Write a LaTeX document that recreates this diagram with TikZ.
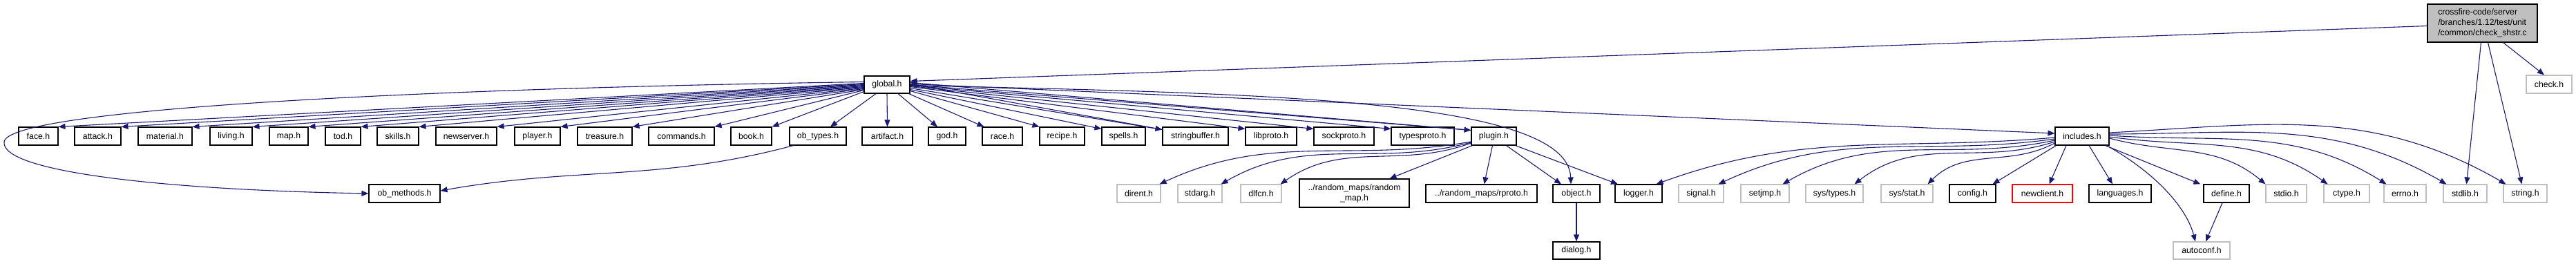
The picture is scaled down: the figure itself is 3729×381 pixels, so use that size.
\documentclass[tikz,border=0pt]{standalone}
\usepackage{fontspec}
\setmainfont{Liberation Sans}
\usetikzlibrary{arrows.meta}
\definecolor{edgec}{HTML}{191970}
\definecolor{graybd}{HTML}{BFBFBF}
\definecolor{redbd}{HTML}{FF0000}
\definecolor{cffill}{HTML}{BFBFBF}
\begin{document}
\begin{tikzpicture}[x=1pt,y=-1pt,
  box/.style={draw=black, line width=1.1pt, inner sep=0pt, minimum height=26pt, font=\fontsize{12.3}{15}\selectfont},
  sysbox/.style={box, draw=graybd},
  redbox/.style={box, draw=redbd},
  edge/.style={draw=edgec, line width=1.1pt, -{Triangle[length=10pt,width=8pt]}}]
\useasboundingbox (0,0) rectangle (3729,381);
% top nodes
\node[box, fill=cffill, minimum width=159pt, minimum height=55pt, align=left] (cf) at (3593.5,33.5) {crossfire-code/server\\/branches/1.12/test/unit\\/common/check\_shstr.c};
\node[box, minimum width=66pt, minimum height=25pt] (global) at (1284,122.5) {global.h};
\node[sysbox, minimum width=66pt] (check) at (3690,122) {check.h};
% row 1
\node[box, minimum width=57pt] (face) at (55.5,197) {face.h};
\node[box, minimum width=67pt] (attack) at (141.5,197) {attack.h};
\node[box, minimum width=78pt] (material) at (239,197) {material.h};
\node[box, minimum width=61pt] (living) at (334.5,197) {living.h};
\node[box, minimum width=56pt] (map) at (418,197) {map.h};
\node[box, minimum width=51pt] (tod) at (496.5,197) {tod.h};
\node[box, minimum width=60pt] (skills) at (576,197) {skills.h};
\node[box, minimum width=88pt] (newserver) at (675,197) {newserver.h};
\node[box, minimum width=66pt] (player) at (778,197) {player.h};
\node[box, minimum width=79pt] (treasure) at (875.5,197) {treasure.h};
\node[box, minimum width=95pt] (commands) at (986.5,197) {commands.h};
\node[box, minimum width=59pt] (book) at (1087.5,197) {book.h};
\node[box, minimum width=82pt] (obtypes) at (1184,197) {ob\_types.h};
\node[box, minimum width=73pt] (artifact) at (1284.5,197) {artifact.h};
\node[box, minimum width=54pt] (god) at (1371,197) {god.h};
\node[box, minimum width=58pt] (race) at (1451,197) {race.h};
\node[box, minimum width=65pt] (recipe) at (1537.5,197) {recipe.h};
\node[box, minimum width=63pt] (spells) at (1626.5,197) {spells.h};
\node[box, minimum width=95pt] (stringbuffer) at (1730.5,197) {stringbuffer.h};
\node[box, minimum width=74pt] (libproto) at (1840,197) {libproto.h};
\node[box, minimum width=87pt] (sockproto) at (1945.5,197) {sockproto.h};
\node[box, minimum width=91pt] (typesproto) at (2059.5,197) {typesproto.h};
\node[box, minimum width=65pt] (plugin) at (2162.5,197) {plugin.h};
\node[box, minimum width=78pt] (includes) at (3014,197) {includes.h};
% row 2
\node[box, minimum width=103pt] (obmethods) at (585.5,280) {ob\_methods.h};
\node[sysbox, minimum width=63pt] (dirent) at (1648.5,280) {dirent.h};
\node[sysbox, minimum width=64pt] (stdarg) at (1737,280) {stdarg.h};
\node[sysbox, minimum width=59pt] (dlfcn) at (1825.5,280) {dlfcn.h};
\node[box, minimum width=159pt, minimum height=41pt, align=center] (randommap) at (1960.5,279.5) {../random\_maps/random\\\_map.h};
\node[box, minimum width=161pt] (rproto) at (2144.5,280) {../random\_maps/rproto.h};
\node[box, minimum width=68pt] (object) at (2282,280) {object.h};
\node[box, minimum width=68pt] (logger) at (2372,280) {logger.h};
\node[sysbox, minimum width=65pt] (signal) at (2462.5,280) {signal.h};
\node[sysbox, minimum width=70pt] (setjmp) at (2555,280) {setjmp.h};
\node[sysbox, minimum width=83pt] (systypes) at (2655.5,280) {sys/types.h};
\node[sysbox, minimum width=75pt] (sysstat) at (2760.5,280) {sys/stat.h};
\node[box, minimum width=67pt] (config) at (2855.5,280) {config.h};
\node[redbox, minimum width=87pt] (newclient) at (2956.5,280) {newclient.h};
\node[box, minimum width=90pt] (languages) at (3069,280) {languages.h};
\node[box, minimum width=66pt] (define) at (3223,280) {define.h};
\node[sysbox, minimum width=59pt] (stdio) at (3309.5,280) {stdio.h};
\node[sysbox, minimum width=66pt] (ctype) at (3397,280) {ctype.h};
\node[sysbox, minimum width=61pt] (errno) at (3481.5,280) {errno.h};
\node[sysbox, minimum width=63pt] (stdlib) at (3568.5,280) {stdlib.h};
\node[sysbox, minimum width=63pt] (string) at (3655.5,280) {string.h};
% row 3
\node[box, minimum width=68pt, minimum height=25pt] (dialog) at (2282,362.5) {dialog.h};
\node[sysbox, minimum width=82pt, minimum height=25pt] (autoconf) at (3187,362.5) {autoconf.h};
% edges from check_shstr.c
\draw[edge] ([yshift=-4pt]cf.west) -- ([yshift=5pt]global.east);
\draw[edge] ([xshift=30pt]cf.south) -- ([xshift=-7pt]check.north);
\draw[edge] ([xshift=-2pt]cf.south) -- ([xshift=2pt]stdlib.north);
\draw[edge] ([xshift=8pt]cf.south) -- ([xshift=-5pt]string.north);
% global.h to the left
\draw[edge] ([yshift=2pt]global.west) -- (face.north east);
\draw[edge] ([yshift=1pt]global.west) -- (attack.north east);
\draw[edge] ([yshift=0pt]global.west) -- (material.north east);
\draw[edge] ([yshift=-1pt]global.west) -- (living.north east);
\draw[edge] ([yshift=-2pt]global.west) -- (map.north east);
\draw[edge] ([yshift=-3pt]global.west) -- (tod.north east);
\draw[edge] ([yshift=-4pt]global.west) -- (skills.north east);
\draw[edge] ([yshift=-5pt]global.west) -- (newserver.north east);
\draw[edge] ([yshift=-6pt]global.west) -- (player.north east);
\draw[edge] ([yshift=-7pt]global.west) -- (treasure.north east);
\draw[edge] ([yshift=-8pt]global.west) -- (commands.north east);
\draw[edge] ([yshift=-10pt]global.west) -- (book.north east);
\draw[edge] ([yshift=4pt]global.west) .. controls (600,128) and (14,158) .. (6,205)
  .. controls (0,250) and (250,275) .. (obmethods.west);
\draw[edge] ([xshift=-16pt]global.south) -- ([xshift=18pt]obtypes.north);
\draw[edge] (global.south) -- (artifact.north);
\draw[edge] ([xshift=16pt]global.south) -- ([xshift=-14pt]god.north);
% global.h to the right
\draw[edge] ([xshift=-2pt]global.south east) -- ([xshift=3pt]race.north west);
\draw[edge] ([yshift=-9pt]global.east) -- (recipe.north west);
\draw[edge] ([yshift=-7pt]global.east) -- ([yshift=-3pt]spells.north west);
\draw[edge] ([yshift=-5pt]global.east) -- ([yshift=-4pt]stringbuffer.north west);
\draw[edge] ([yshift=-4pt]stringbuffer.north west) -- ([yshift=1pt]global.east);
\draw[edge] ([yshift=-3pt]global.east) -- ([yshift=-3pt]libproto.north west);
\draw[edge] ([yshift=-2pt]global.east) -- ([yshift=-3pt]sockproto.north west);
\draw[edge] ([yshift=-1pt]global.east) -- ([yshift=-3pt]typesproto.north west);
\draw[edge] (global.east) -- ([yshift=-5pt]plugin.north west);
\draw[edge] ([yshift=-5pt]plugin.north west) -- ([yshift=3pt]global.east);
\draw[edge] ([yshift=1pt]global.east) -- ([yshift=4pt]includes.west);
\draw[edge] ([yshift=-1pt]global.east) .. controls (1800,135) and (2270,140) .. ([xshift=-8pt]object.north);
% ob_types.h
\draw[edge] ([xshift=6pt]obtypes.south west) to[out=195,in=10] ([yshift=4pt]obmethods.east);
% plugin.h
\draw[edge] ([yshift=-8pt]plugin.west) to[out=190,in=25] ([xshift=-2pt]dirent.north east);
\draw[edge] ([yshift=-9pt]plugin.west) to[out=195,in=30] ([xshift=-2pt]stdarg.north east);
\draw[edge] ([yshift=-10pt]plugin.west) to[out=200,in=35] ([xshift=-2pt]dlfcn.north east);
\draw[edge] ([xshift=2pt]plugin.south west) -- ([xshift=51pt]randommap.north);
\draw[edge] ([xshift=-2pt]plugin.south) -- ([xshift=4pt]rproto.north);
\draw[edge] ([xshift=18pt]plugin.south) -- ([xshift=-22pt]object.north);
\draw[edge] ([xshift=-2pt]plugin.south east) -- ([xshift=-30pt]logger.north);
% object.h
\draw[edge] (object) -- (dialog);
% includes.h
\draw[edge] ([yshift=-2pt]includes.west) to[out=185,in=20] ([xshift=-9pt]logger.north east);
\draw[edge] ([yshift=-4pt]includes.west) to[out=188,in=25] ([xshift=-8pt]signal.north east);
\draw[edge] ([yshift=-6pt]includes.west) to[out=192,in=30] ([xshift=-10pt]setjmp.north east);
\draw[edge] ([yshift=-8pt]includes.west) to[out=198,in=38] ([xshift=-13pt]systypes.north east);
\draw[edge] ([yshift=-10pt]includes.west) to[out=208,in=45] ([xshift=-8pt]sysstat.north east);
\draw[edge] ([xshift=2pt]includes.south west) -- ([xshift=-5pt]config.north east);
\draw[edge] ([xshift=-23pt]includes.south) -- ([xshift=10pt]newclient.north);
\draw[edge] ([xshift=10pt]includes.south) -- ([xshift=-11pt]languages.north);
\draw[edge] ([xshift=-6pt]includes.south east) -- ([xshift=-4pt]define.north west);
\draw[edge] ([xshift=-4pt]includes.south east) .. controls (3120,250) and (3165,300) .. ([xshift=-9pt]autoconf.north);
\draw[edge] ([yshift=-3pt]includes.east) to[out=-15,in=140] (stdio.north west);
\draw[edge] ([yshift=-1pt]includes.east) to[out=-8,in=145] ([xshift=6pt]ctype.north west);
\draw[edge] ([yshift=1pt]includes.east) to[out=-4,in=148] ([xshift=4pt]errno.north west);
\draw[edge] ([yshift=3pt]includes.east) to[out=0,in=150] ([xshift=5pt]stdlib.north west);
\draw[edge] ([yshift=5pt]includes.east) to[out=3,in=150] ([xshift=4pt]string.north west);
% define.h
\draw[edge] ([xshift=-6pt]define.south) -- ([xshift=6pt]autoconf.north);
\end{tikzpicture}
\end{document}
